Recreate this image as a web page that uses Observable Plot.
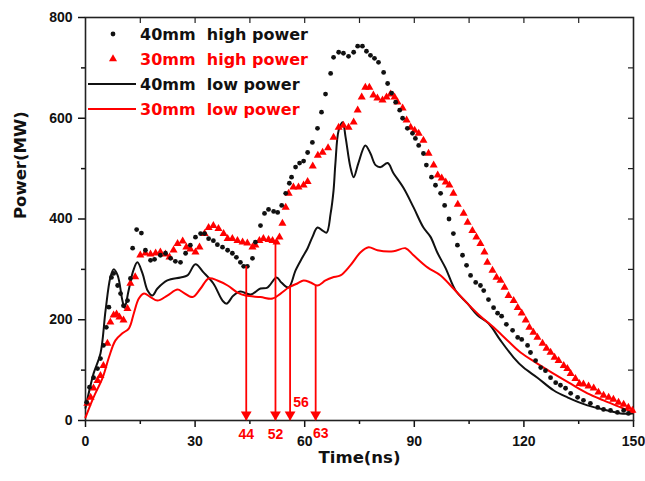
<!DOCTYPE html>
<html>
<head>
<meta charset="utf-8">
<script src="https://cdn.jsdelivr.net/npm/d3@7"></script>
<script src="https://cdn.jsdelivr.net/npm/@observablehq/plot@0.6"></script>
<style>
  html, body { margin: 0; padding: 0; background: #fff; }
</style>
</head>
<body>
<div id="chart"></div>
<script>
// ---- Data ----
const highBlackT = [0.3,1.1,2.2,3.3,4.1,4.9,5.7,6.4,7.1,7.7,8.8,9.6,10.4,11.5,12.3,12.9,14,15.3,16.4,17.8,18.9,20.5,21.9,23.3,24.6,26,27.4,28.7,30.1,31.5,32.6,33.7,35,36.1,37.5,38.9,40.2,41.3,42.4,43.3,44.3,45.7,46.5,47.9,49,50.1,51.5,52.6,53.7,54.8,55.8,56.4,57.5,58.6,59.7,60.8,62.1,63.5,64.6,65.7,67.1,67.9,69.3,70.6,72,73.4,74.5,75.8,76.9,78,79.1,80.2,81.6,82.7,83.8,84.9,86,86.8,88.1,89.5,90.3,91.2,92.5,93.3,94.7,95.8,97.2,98.3,99.5,100.7,101.8,103.2,104.3,105.4,106.8,108.1,109,110.3,111.7,112.8,113.9,115.2,116.9,118.3,119.4,121,121.8,123.2,124.6,125.9,127.3,128.7,130,131.4,132.8,134.7,136.3,138.2,140.2,141.8,143.7,145.6,147.3,148.6];
const highBlackP = [36,66,85,103,123,149,185,225,284,292,268,252,228,238,282,342,379,372,338,318,320,328,332,322,316,314,332,348,364,371,371,361,357,349,344,338,332,324,314,306,306,322,354,387,411,419,415,413,427,451,471,483,503,511,515,532,552,580,612,648,689,721,731,729,723,731,743,743,733,725,719,711,691,669,650,632,616,600,580,570,560,546,530,507,483,467,451,427,400,371,348,328,308,288,274,268,258,240,224,213,207,191,179,165,161,149,135,119,105,99,85,75,70,64,54,46,40,34,26,22,20,16,20,14];

const highRedT = [0.5,1.4,2.2,3.3,4.1,4.9,6,6.8,7.7,8.5,9.3,10.4,11.5,12.3,13.6,15,16.4,17.8,19.2,20.5,21.9,23,24.1,25.2,26.6,27.6,28.7,30.1,31.2,32.6,33.7,35,36.4,37.8,38.9,40.2,41.6,43,44.3,45.7,46.5,47.6,48.7,50.1,51.2,52.3,53.1,53.9,54.8,55.6,56.9,58.3,59.7,60.8,62.2,63.6,64.9,66.4,67.9,69.3,70.6,72,73.4,74.5,75.6,76.6,77.7,78.8,79.9,81.3,82.4,83.5,84.6,85.4,86.8,87.9,89,90.1,91.2,92.5,93.9,95.3,96.4,97.5,98.6,99.6,100.7,101.9,103.5,104.6,105.9,107,108.1,109.2,110,111.4,112.5,113.6,114.7,115.8,117.2,118.3,119.4,120.5,121.5,122.6,123.7,125.1,126.2,127.3,128.4,129.5,130.9,131.9,132.8,134.1,135.2,136.3,137.7,139.1,140.4,141.8,143.2,144.5,145.9,147.3,148.6,149.7];
const highRedP = [34,46,64,79,89,109,153,195,209,211,205,199,222,272,285,328,332,330,332,334,330,324,338,351,356,344,340,334,344,371,383,387,381,371,361,361,357,354,352,344,348,357,361,359,357,354,364,391,423,451,463,463,467,474,505,526,532,541,562,582,586,582,592,616,642,661,661,646,640,636,642,648,642,632,620,596,582,576,570,556,530,507,487,481,473,467,451,429,411,393,377,364,351,334,314,298,284,278,264,248,238,224,213,199,185,175,165,153,143,135,125,119,109,103,93,83,73,72,68,64,56,50,46,42,36,32,26,20];

const lowBlackT = [0,2.2,4.1,5.5,6.8,7.7,8.8,10.1,10.7,11.8,13.1,14.2,15.6,17,18.3,19.7,22.4,26,27.9,30.1,32.3,35,37.5,38.6,40.5,42.4,45.2,47.9,49.8,52.3,53.6,55.6,57.5,59.4,60.8,62.1,63.5,64.9,66,67.1,67.9,68.4,69.3,70.4,71.2,72.5,73.4,74.7,76.6,78,79.4,80.8,82.7,84.3,87.1,89.8,92.5,94.4,96.4,98.6,101.3,104.6,107.3,110.3,113.6,117.2,119.9,123.7,128.1,131.9,137.4,142.9,146.5,149.7];
const lowBlackP = [25,93,133,219,284,300,288,238,224,258,298,314,292,258,248,262,278,284,288,310,294,272,238,232,248,256,250,262,264,284,274,264,298,324,342,364,383,377,373,411,457,510,576,592,562,503,483,511,546,530,507,503,511,491,461,423,383,365,332,302,258,232,209,193,159,125,105,85,60,46,30,20,14,14];

const lowRedT = [0,2.2,4.7,6.4,8.2,10.1,11.9,13.2,14.6,16,17.8,19.7,22.4,25.2,26.8,29.3,31.5,33.7,36.1,38.9,41.6,43.8,47.9,51.2,53.4,55.6,58,59.7,61.6,63.5,65.7,67.6,69.8,72.5,75.3,77.5,79.9,84.3,87.6,89.8,93.6,97.2,100.7,104.6,108.1,111.7,115.5,119.1,123.7,128.1,132.8,137.4,141.8,146.5,150];
const lowRedP = [6,46,85,125,159,173,183,212,242,252,245,238,248,260,254,245,262,282,278,268,254,248,245,242,252,264,272,278,274,268,278,284,288,308,334,344,338,336,342,328,304,288,262,232,207,185,159,135,113,93,73,54,40,26,16];

const arrowTimes = [44, 52, 56, 63];
const arrowTops = [306, 357, 264, 268];
const arrowLabels = ["44", "52", "56", "63"];

const xMajor = [0, 30, 60, 90, 120, 150];
const xMinor = [15, 45, 75, 105, 135];
const xTop = [15, 30, 45, 60, 75, 90, 105, 120, 135];
const yMajor = [0, 200, 400, 600, 800];
const yMinor = [100, 300, 500, 700];
const yRight = [100, 200, 300, 400, 500, 600, 700];

const seriesNames = ["40mm\u00a0 high power", "30mm\u00a0 high power", "40mm\u00a0 low power", "30mm\u00a0 low power"];
const seriesColors = ["#111111", "#ff0000", "#111111", "#ff0000"];

// ---- Tables ----
const highBlack = highBlackT.map((t, i) => ({t, p: highBlackP[i]}));
const highRed = highRedT.map((t, i) => ({t, p: highRedP[i]}));
const lowBlack = lowBlackT.map((t, i) => ({t, p: lowBlackP[i]}));
const lowRed = lowRedT.map((t, i) => ({t, p: lowRedP[i]}));
const arrows = arrowTimes.map((t, i) => ({t, top: arrowTops[i], label: arrowLabels[i]}));

const tickFont = "'Liberation Sans', Arial, sans-serif";
const titleFont = "'DejaVu Sans', Verdana, sans-serif";

const W = 645, H = 481, ML = 85, MR = 12, MT = 17, MB = 61;
const frameW = W - ML - MR, frameH = H - MT - MB;

const chart = Plot.plot({
  width: W,
  height: H,
  marginLeft: ML,
  marginRight: MR,
  marginTop: MT,
  marginBottom: MB,
  style: {fontFamily: tickFont, fontWeight: "bold", fontSize: "14px", color: "#111", background: "#fff"},
  x: {domain: [0, 150]},
  y: {domain: [0, 800]},
  marks: [
    // axes (outward ticks on left/bottom)
    Plot.axisX(xMajor, {tickSize: 7, tickPadding: 9, label: null, strokeWidth: 1.5}),
    Plot.axisX(xMinor, {tickSize: 4, tickFormat: () => "", label: null, strokeWidth: 1.5}),
    Plot.axisY(yMajor, {tickSize: 7, tickPadding: 6, label: null, strokeWidth: 1.5}),
    Plot.axisY(yMinor, {tickSize: 4, tickFormat: () => "", label: null, strokeWidth: 1.5}),
    // inward ticks on top and right
    Plot.ruleX(xTop, {x: d => d, insetBottom: frameH - 6, stroke: "#222", strokeWidth: 1.2}),
    Plot.ruleY(yRight, {y: d => d, insetLeft: frameW - 5, stroke: "#222", strokeWidth: 1.2}),
    Plot.frame({stroke: "#222", strokeWidth: 1.6}),
    // axis titles
    Plot.text(["Time(ns)"], {frameAnchor: "bottom", dy: 42, text: d => d, fontFamily: titleFont, fontSize: 16.5, fontWeight: "bold", fill: "#111"}),
    Plot.text(["Power(MW)"], {frameAnchor: "left", dx: -65, rotate: -90, text: d => d, fontFamily: titleFont, fontSize: 16.5, fontWeight: "bold", fill: "#111"}),
    // low power lines
    Plot.line(lowBlack, {x: "t", y: "p", stroke: seriesColors[2], strokeWidth: 2, curve: "catmull-rom"}),
    Plot.line(lowRed, {x: "t", y: "p", stroke: seriesColors[3], strokeWidth: 2, curve: "catmull-rom"}),
    // high power markers
    Plot.dot(highRed, {x: "t", y: "p", symbol: "triangle", r: 3, fill: seriesColors[1], stroke: null}),
    Plot.dot(highBlack, {x: "t", y: "p", symbol: "circle", r: 2.4, fill: seriesColors[0], stroke: null}),
    // arrows
    Plot.ruleX(arrows, {x: "t", y1: 0, y2: "top", stroke: "#ff0000", strokeWidth: 1.8}),
    Plot.dot(arrows, {x: "t", y: 0, symbol: "triangle", rotate: 180, r: 4, dy: -6, fill: "#ff0000", stroke: null}),
    Plot.text(arrows, Plot.filter(d => d.label === "44" || d.label === "52", {x: "t", y: 0, text: "label", dy: 14, fill: "#ff0000", fontSize: 14, fontWeight: "bold"})),
    Plot.text(arrows, Plot.filter(d => d.label === "63", {x: "t", y: 0, text: "label", dx: 5, dy: 13, fill: "#ff0000", fontSize: 14, fontWeight: "bold"})),
    Plot.text(arrows, Plot.filter(d => d.label === "56", {x: "t", y: 0, text: "label", dx: 11, dy: -18, fill: "#ff0000", fontSize: 14, fontWeight: "bold"}))
  ]
});

document.getElementById("chart").appendChild(chart);

// ---- Legend (inside the plot, top-left) ----
const svg = d3.select(chart);
const lg = svg.append("g")
  .attr("font-family", titleFont)
  .attr("font-weight", "bold")
  .attr("font-size", 16)
  .attr("text-anchor", "start");
const rowY = [34, 59, 84, 109];
seriesNames.forEach((name, i) => {
  const y = rowY[i];
  if (i === 0) {
    lg.append("circle").attr("cx", 113).attr("cy", y).attr("r", 2.4).attr("fill", seriesColors[i]);
  } else if (i === 1) {
    lg.append("path").attr("d", d3.symbol(d3.symbolTriangle, Math.PI * 3 * 3)()).attr("transform", `translate(113,${y})`).attr("fill", seriesColors[i]);
  } else {
    lg.append("line").attr("x1", 88).attr("x2", 136).attr("y1", y).attr("y2", y).attr("stroke", seriesColors[i]).attr("stroke-width", 2);
  }
  lg.append("text").attr("x", 140).attr("y", y + 6).attr("text-anchor", "start").attr("fill", seriesColors[i]).text(name);
});
</script>
</body>
</html>
